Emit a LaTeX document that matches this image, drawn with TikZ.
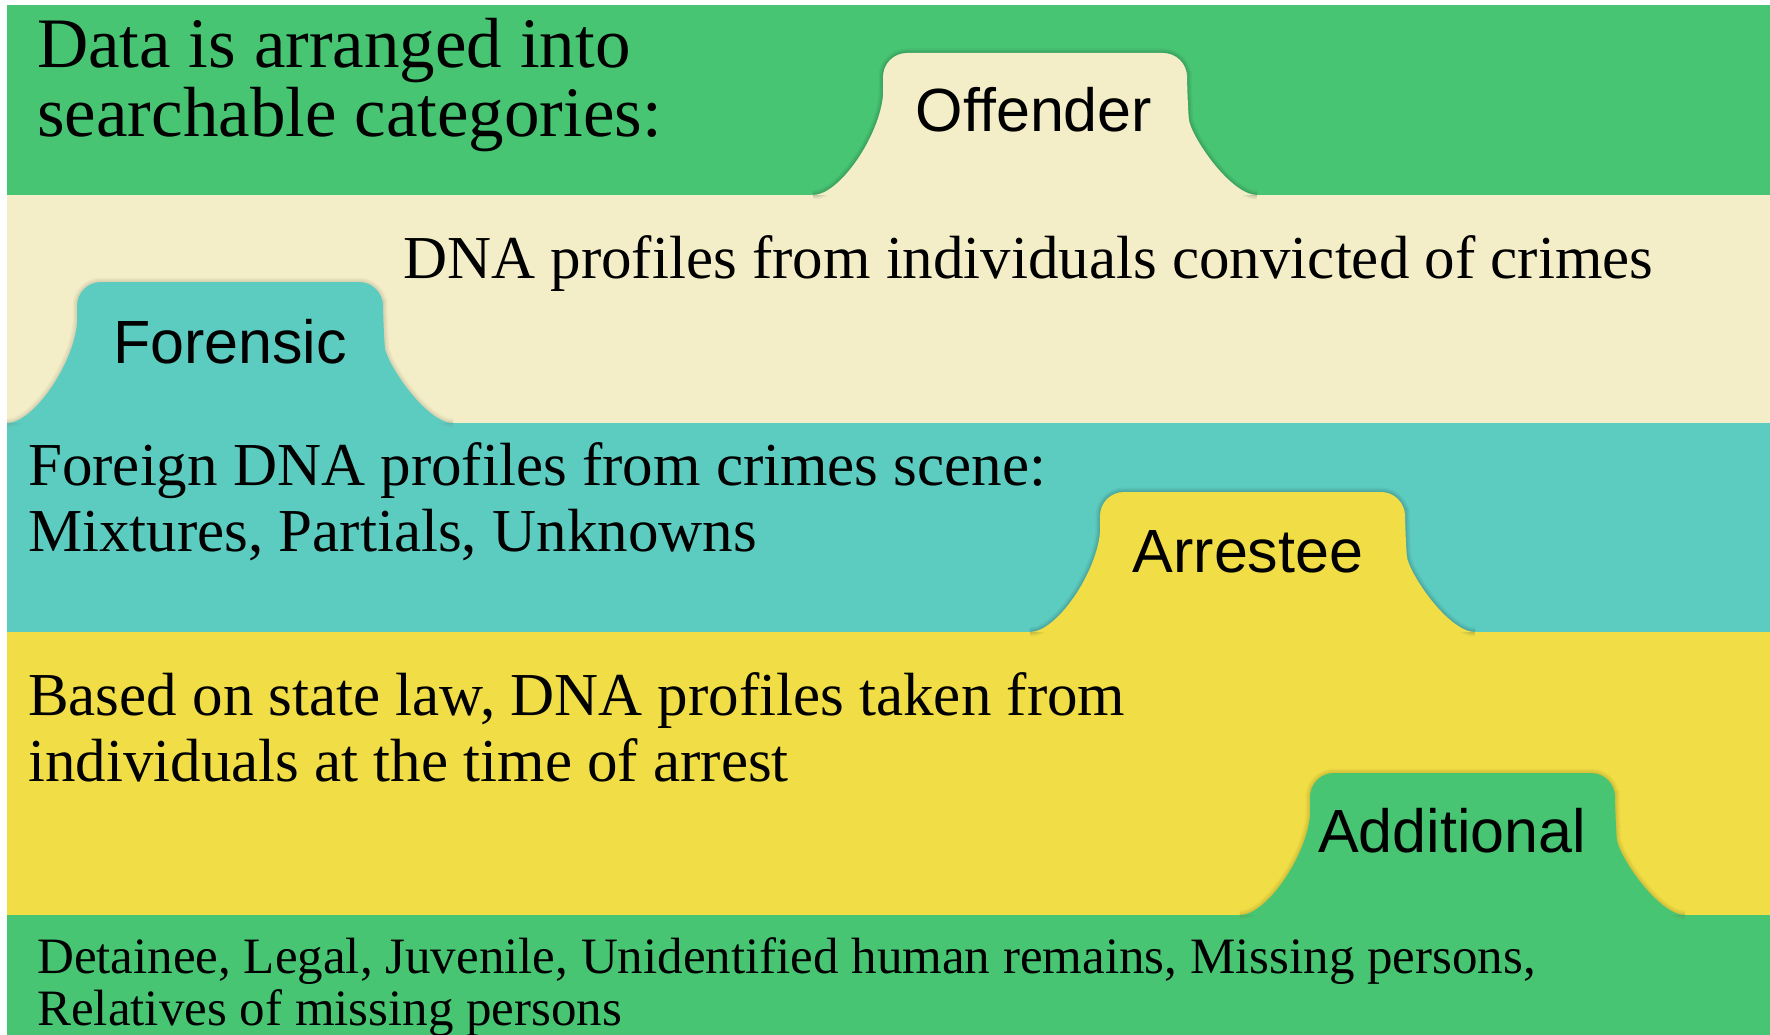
\documentclass[tikz,border=0pt]{standalone}
\usepackage{fontspec}
\setmainfont{Liberation Serif}
\setsansfont{Liberation Sans}
\definecolor{bandgreen}{HTML}{47C573}
\definecolor{bandcream}{HTML}{F4EEC8}
\definecolor{bandteal}{HTML}{5CCBC0}
\definecolor{bandyellow}{HTML}{F1DD45}
% folder tab: xL xR top base colour shadowcolour
\newcommand\foldertab[6]{%
  \foreach \w/\o in {9/0.06,6/0.08,3/0.1}{%
  \draw[#6, line width=\w pt, opacity=\o]
    (#1-70,#4) .. controls (#1-43,#4) and (#1-3,#4-60) .. (#1,#4-100)
    [rounded corners=24pt] -- (#1,#3) -- (#2,#3) -- (#2,#4-100) [sharp corners]
    .. controls (#2+3,#4-60) and (#2+43,#4) .. (#2+70,#4);}
  \fill[#5]
    (#1-70,#4) .. controls (#1-43,#4) and (#1-3,#4-60) .. (#1,#4-100)
    [rounded corners=24pt] -- (#1,#3) -- (#2,#3) -- (#2,#4-100) [sharp corners]
    .. controls (#2+3,#4-60) and (#2+43,#4) .. (#2+70,#4) -- cycle;}
\begin{document}
\begin{tikzpicture}[x=1pt,y=-1pt,
  tablabel/.style={font=\sffamily\fontsize{61}{61}\selectfont, anchor=base, inner sep=0pt},
  bodytext/.style={anchor=base west, inner sep=0pt},
  bigfont/.style={font=\fontsize{71}{65}\selectfont},
  midfont/.style={font=\fontsize{61}{66}\selectfont},
  smallfont/.style={font=\fontsize{51}{52}\selectfont}]
\useasboundingbox (0,0) rectangle (1770,1035);
\fill[white] (0,0) rectangle (1770,1035);
% bands
\fill[bandgreen]  (7,5)   rectangle (1770,195);
\fill[bandcream]  (7,195) rectangle (1770,423);
\fill[bandteal]   (7,423) rectangle (1770,632);
\fill[bandyellow] (7,632) rectangle (1770,915);
\fill[bandgreen]  (7,915) rectangle (1770,1035);
% tabs
\foldertab{883}{1187}{53}{195}{bandcream}{black!70!bandgreen}
\foldertab{77}{383}{282}{423}{bandteal}{black!50!bandcream}
\foldertab{1100}{1405}{492}{632}{bandyellow}{black!70!bandteal}
\foldertab{1310}{1615}{773}{915}{bandgreen}{black!50!bandyellow}
% tab labels
\node[tablabel] (offender)   at (1034,132) {Offender};
\node[tablabel] (forensic)   at (230,363)  {Forensic};
\node[tablabel] (arrestee)   at (1248,572) {Arrestee};
\node[tablabel] (additional) at (1452,852) {Additional};
% texts
\node[bodytext, bigfont] (title) at (37,68)
  {\begin{tabular}[t]{@{}l@{}}Data is arranged into\\searchable categories:\end{tabular}};
\node[bodytext, midfont] (offtext) at (403,279)
  {DNA profiles from individuals convicted of crimes};
\node[bodytext, midfont] (fortext) at (28,485)
  {\begin{tabular}[t]{@{}l@{}}Foreign DNA profiles from crimes scene:\\Mixtures, Partials, Unknowns\end{tabular}};
\node[bodytext, midfont] (arrtext) at (28,715)
  {\begin{tabular}[t]{@{}l@{}}Based on state law, DNA profiles taken from\\individuals at the time of arrest\end{tabular}};
\node[bodytext, smallfont] (addtext) at (37,973)
  {\begin{tabular}[t]{@{}l@{}}Detainee, Legal, Juvenile, Unidentified human remains, Missing persons,\\Relatives of missing persons\end{tabular}};
\end{tikzpicture}
\end{document}
